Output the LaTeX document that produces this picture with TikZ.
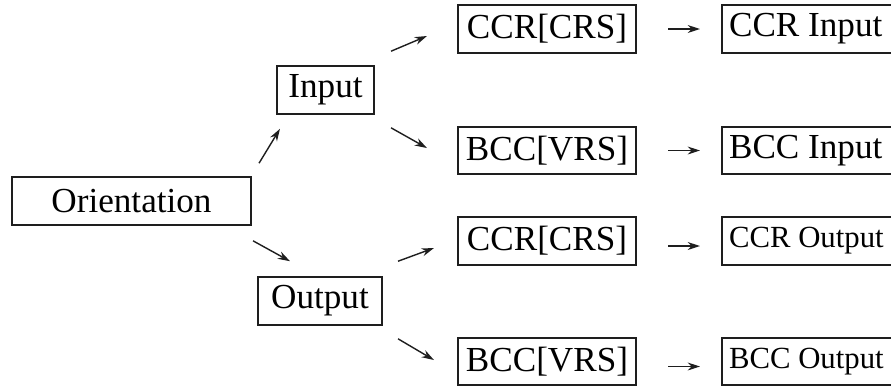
\documentclass[tikz,border=0pt]{standalone}
\usepackage{fontspec}
\setmainfont{Liberation Serif}
\usetikzlibrary{arrows.meta,positioning,calc}
\definecolor{BoxInk}{HTML}{1E1E1E}
\newcommand{\resultlabel}[1]{\makebox[3.5cm][l]{#1}}

\begin{document}
\begin{tikzpicture}[x=0.02cm,y=-0.02cm,
  box/.style={draw=BoxInk,line width=1.2pt,inner sep=0pt,minimum height=0.95cm,font=\fontsize{20}{24}\selectfont},
  resultbox/.style={box,anchor=west,inner xsep=0.14cm},
  link/.style={-{Stealth[length=7pt,width=4.5pt]},line width=0.8pt,draw=BoxInk}]
\useasboundingbox (0,0) rectangle (891,387);
\clip (0,0) rectangle (891,387);
\node[box,minimum width=4.78cm] (ori) at (131.5,201) {Orientation};
\node[box,minimum width=1.94cm] (inp) at (325.5,90) {Input};
\node[box,minimum width=2.48cm] (out) at (320,301) {Output};
\node[box,minimum width=3.56cm] (ccrA) at (547,29) {CCR[CRS]};
\node[box,minimum width=3.56cm] (bccA) at (547,150.5) {BCC[VRS]};
\node[box,minimum width=3.56cm] (ccrB) at (547,241) {CCR[CRS]};
\node[box,minimum width=3.56cm] (bccB) at (547,361.5) {BCC[VRS]};
\node[resultbox] (ccrIn) at (721,29) {\resultlabel{CCR Input}};
\node[resultbox] (bccIn) at (721,150.5) {\resultlabel{BCC Input}};
\node[resultbox,font=\fontsize{17.5}{21}\selectfont] (ccrOut) at (721,241) {\resultlabel{CCR Output}};
\node[resultbox,font=\fontsize{17.5}{21}\selectfont] (bccOut) at (721,361.5) {\resultlabel{BCC Output}};
% orientation split
\draw[link] ($(ori.north east)+(7,-13)$) -- ($(inp.south west)+(4,14)$);
\draw[link] ($(ori.south east)+(1,15)$) -- ($(out.north)+(-30,-15)$);
% models
\draw[link] ($(inp.north east)+(16,-14)$) -- ($(ccrA.west)+(-30,7)$);
\draw[link] ($(inp.south east)+(16,13)$) -- ($(bccA.west)+(-30,-2.5)$);
\draw[link] ($(out.north east)+(15,-15)$) -- ($(ccrB.west)+(-23,7)$);
\draw[link] ($(out.south east)+(15,13)$) -- ($(bccB.west)+(-23,-1.5)$);
% results
\draw[link] ($(ccrA.east)+(31,0)$) -- ($(ccrIn.west)+(-21,0)$);
\draw[link] ($(bccA.east)+(31,0)$) -- ($(bccIn.west)+(-21,0)$);
\draw[link] ($(ccrB.east)+(31,5)$) -- ($(ccrOut.west)+(-21,5)$);
\draw[link] ($(bccB.east)+(31,5)$) -- ($(bccOut.west)+(-21,5)$);
\end{tikzpicture}
\end{document}
